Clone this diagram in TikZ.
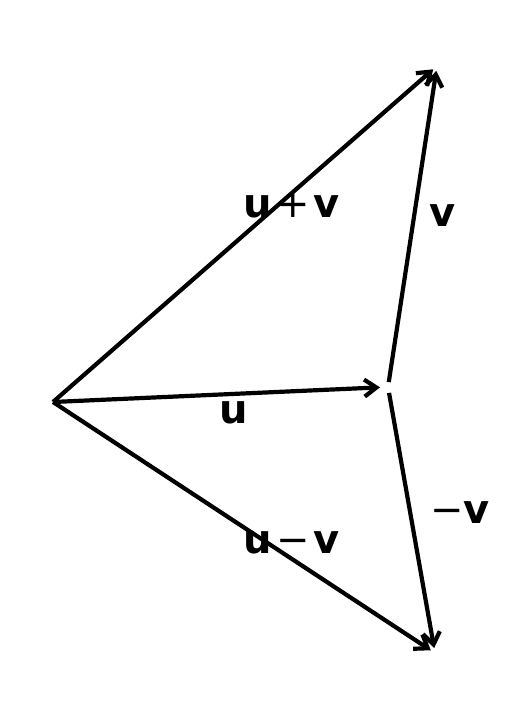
\documentclass[tikz,border=0pt]{standalone}
\usepackage{fontspec}
\setmainfont{DejaVu Sans}
\usetikzlibrary{arrows.meta}
\begin{document}
\begin{tikzpicture}[x=0.5pt,y=-0.5pt,
  vec/.style={line width=2.1pt, line join=round,
    -{Straight Barb[length=6pt,width=8.5pt,line width=2.1pt]}},
  lbl/.style={font=\fontsize{20}{24}\selectfont, inner sep=0pt, anchor=base}]
\useasboundingbox (0,0) rectangle (523,721);
\coordinate (O) at (53,402);
\coordinate (P) at (388,387);
\coordinate (Q) at (437,66);
\coordinate (R) at (435,653);
\draw[vec, shorten >=2.5pt] (O) -- (Q);
\draw[vec, shorten >=2.5pt] (O) -- (R);
\draw[vec, shorten >=4pt] (O) -- (P);
\draw[vec, shorten <=2.5pt, shorten >=2.5pt] (P) -- (Q);
\draw[vec, shorten <=3pt, shorten >=2.5pt] (P) -- (R);
\node[lbl] (luv) at (292,218) {\textbf{u}\hspace{0.1em}+\hspace{0.1em}\textbf{v}};
\node[lbl] (lv) at (443,227) {\textbf{v}};
\node[lbl] (lu) at (234,423) {\textbf{u}};
\node[lbl] (lumv) at (292,553) {\textbf{u}\hspace{0.1em}−\hspace{0.1em}\textbf{v}};
\node[lbl] (lmv) at (460,523) {−\textbf{v}};
\end{tikzpicture}
\end{document}
